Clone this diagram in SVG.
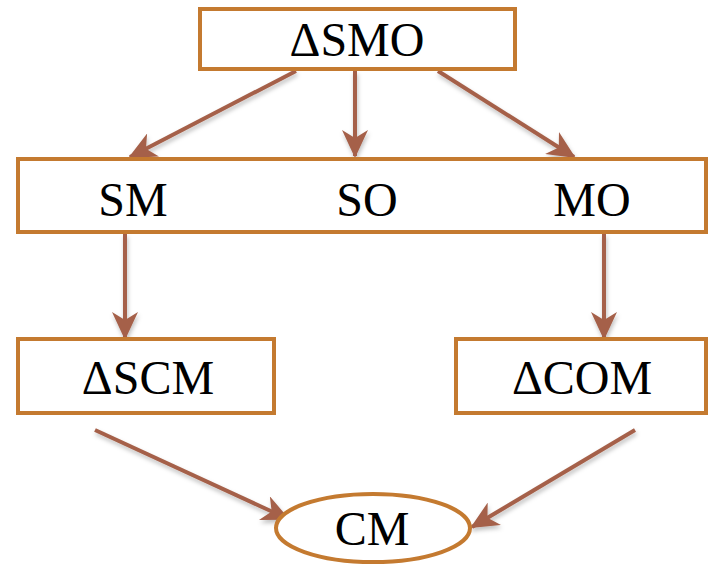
<svg xmlns="http://www.w3.org/2000/svg" width="708" height="566" viewBox="0 0 708 566">
<defs>
<style>
.box{fill:#fff;stroke:#c47a30;stroke-width:4}
.lbl{font-family:'Liberation Serif','Times New Roman','DejaVu Serif',serif;font-size:48px;fill:#000;text-anchor:middle}
.con{stroke:#a5614a;stroke-width:4;fill:none;marker-end:url(#ah)}
</style>
<filter id="sh" x="-20%" y="-20%" width="140%" height="140%">
<feDropShadow dx="1" dy="3" stdDeviation="2" flood-color="#000" flood-opacity="0.25"/>
</filter>
<marker id="ah" markerUnits="userSpaceOnUse" viewBox="0 0 28 26" refX="26" refY="13" markerWidth="28" markerHeight="26" orient="auto">
<path d="M0,0 L28,13 L0,26 L8,13 Z" fill="#a5614a"/>
</marker>
</defs>
<rect width="708" height="566" fill="#fff"/>
<g id="connectors" filter="url(#sh)">
<line class="con" x1="296" y1="71" x2="130" y2="157"/>
<line class="con" x1="355" y1="71" x2="355" y2="156"/>
<line class="con" x1="438" y1="71" x2="574" y2="157"/>
<line class="con" x1="125" y1="234" x2="125" y2="338"/>
<line class="con" x1="604" y1="234" x2="604" y2="338"/>
<line class="con" x1="95" y1="430" x2="288" y2="519"/>
<line class="con" x1="635" y1="430" x2="472" y2="527"/>
</g>
<g id="smo">
<rect class="box" x="200" y="9" width="315" height="60"/>
<text class="lbl" x="357" y="56">ΔSMO</text>
</g>
<g id="pairs">
<rect class="box" x="18" y="159" width="688" height="73"/>
<text class="lbl" x="133" y="216">SM</text>
<text class="lbl" x="367" y="216">SO</text>
<text class="lbl" x="592" y="216">MO</text>
</g>
<g id="scm">
<rect class="box" x="18" y="339" width="256" height="74"/>
<text class="lbl" x="148" y="394">ΔSCM</text>
</g>
<g id="com">
<rect class="box" x="456" y="339" width="250" height="74"/>
<text class="lbl" x="582" y="394">ΔCOM</text>
</g>
<g id="cm">
<ellipse class="box" cx="373" cy="528" rx="97" ry="34"/>
<text class="lbl" x="372" y="545">CM</text>
</g>
</svg>
